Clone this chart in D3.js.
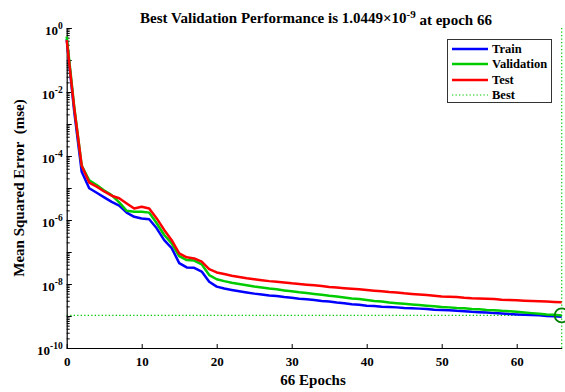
<!DOCTYPE html>
<html>
<head>
<meta charset="utf-8">
<script src="https://cdn.jsdelivr.net/npm/d3@7"></script>
<style>
  html, body { margin: 0; padding: 0; background: #fff; }
  svg { display: block; font-family: "Liberation Serif", "Times New Roman", serif; font-weight: bold; }
  svg text { font-family: "Liberation Serif", "Times New Roman", serif; font-weight: bold; fill: #000; }
</style>
</head>
<body>
<svg id="chart" width="565" height="392"></svg>
<script>
// ---- Data ----
const epochs = d3.range(0, 67);
const trainMSE = [
  4.5e-1, 2.5e-3, 3.2e-5, 9.8e-6, 7.1e-6, 5.1e-6, 3.7e-6, 2.8e-6, 1.7e-6, 1.26e-6,
  1.12e-6, 1.05e-6, 5.5e-7, 2.34e-7, 1.32e-7, 4.5e-8, 3.3e-8, 3.2e-8, 2.45e-8, 1.17e-8,
  8.3e-9, 7.2e-9, 6.5e-9, 5.9e-9, 5.4e-9, 5.0e-9, 4.7e-9, 4.4e-9, 4.2e-9, 3.9e-9,
  3.7e-9, 3.47e-9, 3.31e-9, 3.16e-9, 2.95e-9, 2.82e-9, 2.63e-9, 2.51e-9, 2.34e-9, 2.24e-9,
  2.09e-9, 2.04e-9, 1.95e-9, 1.91e-9, 1.86e-9, 1.78e-9, 1.74e-9, 1.70e-9, 1.66e-9, 1.58e-9,
  1.55e-9, 1.51e-9, 1.45e-9, 1.41e-9, 1.35e-9, 1.32e-9, 1.29e-9, 1.23e-9, 1.20e-9, 1.15e-9,
  1.12e-9, 1.10e-9, 1.07e-9, 1.05e-9, 1.00e-9, 0.98e-9, 0.95e-9
];
const validationMSE = [
  5.4e-1, 3.5e-3, 5.0e-5, 1.74e-5, 1.23e-5, 8.3e-6, 6.0e-6, 3.55e-6, 1.95e-6, 1.82e-6,
  1.82e-6, 1.70e-6, 7.9e-7, 3.4e-7, 1.86e-7, 7.4e-8, 5.6e-8, 5.4e-8, 4.1e-8, 1.9e-8,
  1.41e-8, 1.23e-8, 1.10e-8, 1.00e-8, 9.1e-9, 8.3e-9, 7.8e-9, 7.2e-9, 6.8e-9, 6.3e-9,
  5.9e-9, 5.5e-9, 5.25e-9, 4.9e-9, 4.6e-9, 4.27e-9, 4.07e-9, 3.8e-9, 3.55e-9, 3.39e-9,
  3.16e-9, 2.95e-9, 2.82e-9, 2.63e-9, 2.51e-9, 2.40e-9, 2.29e-9, 2.19e-9, 2.09e-9, 2.00e-9,
  1.91e-9, 1.86e-9, 1.78e-9, 1.74e-9, 1.66e-9, 1.62e-9, 1.55e-9, 1.51e-9, 1.45e-9, 1.41e-9,
  1.35e-9, 1.29e-9, 1.23e-9, 1.17e-9, 1.12e-9, 1.10e-9, 1.0449e-9
];
const testMSE = [
  4.2e-1, 3.2e-3, 5.0e-5, 1.48e-5, 1.10e-5, 7.8e-6, 5.75e-6, 4.8e-6, 3.3e-6, 2.3e-6,
  2.6e-6, 2.3e-6, 1.12e-6, 4.9e-7, 2.34e-7, 9.1e-8, 6.8e-8, 6.3e-8, 5.0e-8, 2.9e-8,
  2.3e-8, 2.04e-8, 1.82e-8, 1.66e-8, 1.51e-8, 1.41e-8, 1.32e-8, 1.23e-8, 1.17e-8, 1.12e-8,
  1.05e-8, 1.00e-8, 9.5e-9, 9.1e-9, 8.7e-9, 8.1e-9, 7.8e-9, 7.4e-9, 7.1e-9, 6.8e-9,
  6.5e-9, 6.2e-9, 5.9e-9, 5.6e-9, 5.4e-9, 5.1e-9, 4.9e-9, 4.7e-9, 4.5e-9, 4.3e-9,
  4.1e-9, 4.0e-9, 3.9e-9, 3.7e-9, 3.6e-9, 3.55e-9, 3.47e-9, 3.39e-9, 3.24e-9, 3.16e-9,
  3.09e-9, 3.02e-9, 2.95e-9, 2.88e-9, 2.82e-9, 2.75e-9, 2.69e-9
];
const bestEpoch = 66;
const bestPerf = 1.0449e-9;
const xTicks = [0, 10, 20, 30, 40, 50, 60];
const yTickExps = [0, -2, -4, -6, -8, -10];
const seriesNames = ["Train", "Validation", "Test", "Best"];
const seriesColors = ["#0000ff", "#00cc00", "#ff0000", "#00cc00"];

// ---- Layout ----
const svg = d3.select("#chart");
const mLeft = 66.7, mRight = 561.7, mTop = 28, mBottom = 348;
const x = d3.scaleLinear().domain([0, 66]).range([mLeft, mRight]);
const y = d3.scaleLog().domain([1e-10, 1]).range([mBottom, mTop]);

// Minor y ticks
const minor = [];
for (let e = -10; e < 0; e++) for (let m = 2; m <= 9; m++) minor.push(m * Math.pow(10, e));
const decades = d3.range(-10, 1).map(e => Math.pow(10, e));

svg.append("g").attr("transform", `translate(${mLeft},0)`)
  .call(d3.axisLeft(y).tickValues(minor).tickSize(-3).tickSizeOuter(0).tickFormat(""))
  .call(g => g.select(".domain").remove())
  .selectAll("line").attr("stroke", "#000");
svg.append("g").attr("transform", `translate(${mLeft},0)`)
  .call(d3.axisLeft(y).tickValues(decades).tickSize(-5).tickSizeOuter(0).tickFormat(""))
  .call(g => g.select(".domain").remove())
  .selectAll("line").attr("stroke", "#000");

// Best lines (drawn under the curves)
svg.append("line")
  .attr("x1", x(0)).attr("x2", x(66)).attr("y1", y(bestPerf)).attr("y2", y(bestPerf))
  .attr("stroke", seriesColors[3]).attr("stroke-width", 1.2).attr("stroke-dasharray", "1.3,2.2");
svg.append("line")
  .attr("x1", x(bestEpoch)).attr("x2", x(bestEpoch)).attr("y1", y(1)).attr("y2", y(1e-10))
  .attr("stroke", seriesColors[3]).attr("stroke-width", 1.2).attr("stroke-dasharray", "1.3,2.2");

// Y axis line + major ticks (labels drawn separately)
const yAxisG = svg.append("g").attr("transform", `translate(${mLeft},0)`)
  .call(d3.axisLeft(y).tickValues(yTickExps.map(e => Math.pow(10, e))).tickSize(-5).tickSizeOuter(0).tickFormat(""));
yAxisG.select(".domain").attr("stroke", "#000").attr("stroke-width", 1.2);
yAxisG.selectAll(".tick text").remove();

// Y tick labels: base "10" and superscript exponent as separate texts, right-aligned to the axis
const yLabels = svg.append("g").attr("class", "ylabels");
yTickExps.forEach(e => {
  const yy = y(Math.pow(10, e));
  const sup = yLabels.append("text")
    .attr("x", mLeft - 4).attr("y", yy + 0.5)
    .attr("text-anchor", "end").attr("font-size", 9.5).text(String(e));
  const w = sup.node().getComputedTextLength();
  yLabels.append("text")
    .attr("x", mLeft - 4 - w).attr("y", yy + 6.5)
    .attr("text-anchor", "end").attr("font-size", 13).text("10");
});

// X axis
const xAxisG = svg.append("g").attr("transform", `translate(0,${mBottom})`)
  .call(d3.axisBottom(x).tickValues(xTicks).tickSize(-4).tickSizeOuter(0).tickPadding(9).tickFormat(d3.format("d")));
xAxisG.attr("font-family", null).attr("font-size", null);
xAxisG.select(".domain").attr("stroke", "#000").attr("stroke-width", 1.2);
xAxisG.selectAll(".tick text").attr("font-size", 13);

// Curves
const line = d3.line().x((d, i) => x(epochs[i])).y(d => y(d));
[trainMSE, validationMSE, testMSE].forEach((s, i) => {
  svg.append("path").datum(s).attr("d", line)
    .attr("fill", "none").attr("stroke", seriesColors[i]).attr("stroke-width", 2.5)
    .attr("stroke-linejoin", "round");
});

// Best circle
svg.append("circle").attr("cx", x(bestEpoch)).attr("cy", y(bestPerf)).attr("r", 7)
  .attr("fill", "none").attr("stroke", "#007f00").attr("stroke-width", 1.8);

// Title
const title = svg.append("text").attr("x", 316).attr("y", 23).attr("text-anchor", "middle").attr("font-size", 15);
title.append("tspan").text("Best Validation Performance is 1.0449\u00d710");
title.append("tspan").attr("dy", "-0.5em").attr("font-size", 11).text("-9");
title.append("tspan").attr("dy", "0.5em").text(" at epoch 66");

// Axis labels
svg.append("text").attr("x", 313).attr("y", 385).attr("text-anchor", "middle").attr("font-size", 15).text("66 Epochs");
svg.append("text").attr("transform", `translate(24,${(mTop + mBottom) / 2}) rotate(-90)`)
  .attr("text-anchor", "middle").attr("font-size", 15)
  .style("white-space", "pre").text("Mean Squared Error  (mse)");

// Legend
const lg = svg.append("g");
lg.append("rect").attr("x", 447.5).attr("y", 39.5).attr("width", 104).attr("height", 63)
  .attr("fill", "#fff").attr("stroke", "#333").attr("stroke-width", 1);
const legendYs = [49, 64, 80, 95];
seriesNames.forEach((n, i) => {
  lg.append("line").attr("x1", 452).attr("x2", 488).attr("y1", legendYs[i]).attr("y2", legendYs[i])
    .attr("stroke", seriesColors[i]).attr("stroke-width", i < 3 ? 2.5 : 1.2)
    .attr("stroke-dasharray", i < 3 ? null : "1.3,2.2");
  lg.append("text").attr("x", 492).attr("y", legendYs[i]).attr("dy", "0.35em")
    .attr("font-size", 12.5).text(n);
});
</script>
</body>
</html>
